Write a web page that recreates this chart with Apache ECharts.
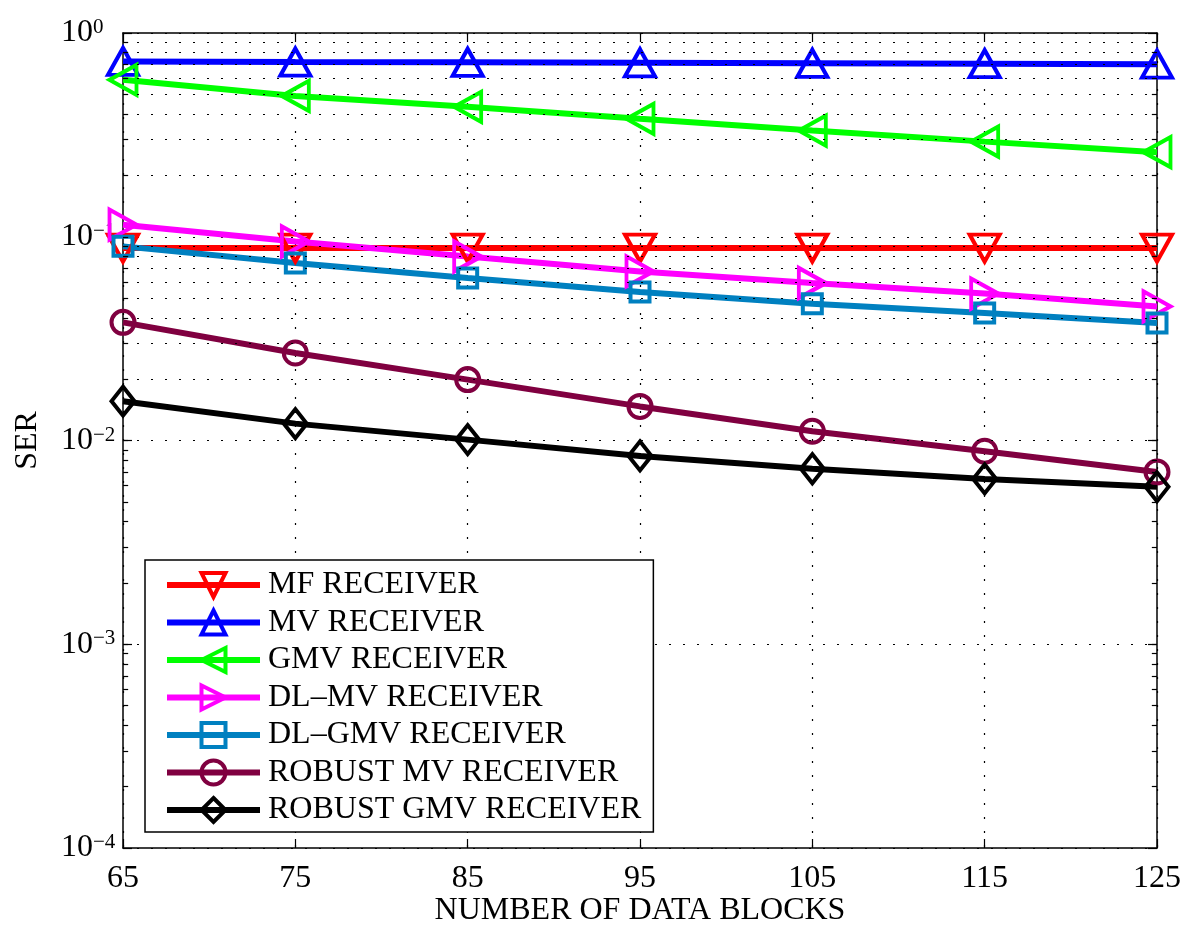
<!DOCTYPE html>
<html>
<head>
<meta charset="utf-8">
<script src="https://cdn.jsdelivr.net/npm/echarts@6/dist/echarts.min.js"></script>
<style>
html,body{margin:0;padding:0;background:#fff;}
#chart{width:1182px;height:927px;}
</style>
</head>
<body>
<div id="chart"></div>
<script>
// ---- data ----
const blocks = [65, 75, 85, 95, 105, 115, 125];
const mfReceiver = [0.088, 0.088, 0.088, 0.088, 0.088, 0.088, 0.088];
const mvReceiver = [0.725, 0.720, 0.718, 0.714, 0.710, 0.707, 0.703];
const gmvReceiver = [0.589, 0.491, 0.434, 0.379, 0.332, 0.293, 0.260];
const dlMvReceiver = [0.1146, 0.0948, 0.080, 0.0676, 0.0593, 0.0526, 0.0455];
const dlGmvReceiver = [0.0897, 0.0743, 0.0627, 0.0536, 0.0469, 0.0423, 0.0377];
const robustMvReceiver = [0.038, 0.0269, 0.0199, 0.0147, 0.0111, 0.00886, 0.0070];
const robustGmvReceiver = [0.0156, 0.0121, 0.0101, 0.0084, 0.00727, 0.00648, 0.00593];
const seriesNames = ['MF RECEIVER', 'MV RECEIVER', 'GMV RECEIVER', 'DL\u2013MV RECEIVER', 'DL\u2013GMV RECEIVER', 'ROBUST MV RECEIVER', 'ROBUST GMV RECEIVER'];
const yDecadeExponents = [0, -1, -2, -3, -4];
const xMin = 65, xMax = 125, xStep = 10;
const yMin = 1e-4, yMax = 1;

const FONT = '"Liberation Serif", "DejaVu Serif", serif';

// minor log grid values (2..9 x 10^k)
const minorVals = [];
for (let k = -4; k <= -1; k++) {
  for (let m = 2; m <= 9; m++) minorVals.push(m * Math.pow(10, k));
}
const decadeVals = [1e-3, 1e-2, 1e-1];

const dotted = [2, 12];
const gridMarks = minorVals.map(v => ({ yAxis: v }));
const tickLenX = 0.3;
const minorTickMarks = [];
minorVals.concat(decadeVals).forEach(v => {
  minorTickMarks.push([{ coord: [xMin, v] }, { coord: [xMin + tickLenX, v] }]);
  minorTickMarks.push([{ coord: [xMax - tickLenX, v] }, { coord: [xMax, v] }]);
});

function mkSeries(name, values, color, symbol, size, rotate) {
  return {
    name: name,
    type: 'line',
    data: blocks.map((b, i) => [b, values[i]]),
    symbol: symbol,
    symbolSize: size,
    symbolRotate: rotate || 0,
    showAllSymbol: true,
    lineStyle: { color: color, width: 6 },
    itemStyle: { color: 'rgba(255,255,255,0)', borderColor: color, borderWidth: 4 },
    emphasis: { disabled: true },
    animation: false,
    z: 3
  };
}

const chart = echarts.init(document.getElementById('chart'), null, { renderer: 'canvas' });

function expLabel(v) {
  const e = Math.round(Math.log10(v));
  const s = e < 0 ? '\u2212' + (-e) : String(e);
  return '{b|10}{s|' + s + '}';
}

const option = {
  backgroundColor: '#fff',
  animation: false,
  grid: { left: 123, right: 25, top: 33, bottom: 79, containLabel: false, outerBoundsMode: 'none' },
  legend: {
    data: seriesNames,
    orient: 'vertical',
    left: 145,
    top: 560,
    itemWidth: 93,
    itemHeight: 30,
    itemGap: 5.5,
    padding: [9, 12, 6, 19],
    borderColor: '#000',
    borderWidth: 1.5,
    backgroundColor: '#fff',
    selectedMode: false,
    lineStyle: { width: 6 },
    itemStyle: { borderWidth: 4 },
    textStyle: { fontFamily: FONT, fontSize: 32, color: '#000', padding: [0, 0, 0, 3] },
    z: 10
  },
  xAxis: [
    {
      type: 'value', min: xMin, max: xMax, interval: xStep,
      name: 'NUMBER OF DATA BLOCKS', nameLocation: 'middle', nameGap: 47, nameMoveOverlap: false,
      nameTextStyle: { fontFamily: FONT, fontSize: 32, color: '#000' },
      axisLine: { show: true, lineStyle: { color: '#000', width: 1.5 } },
      axisTick: { show: true, inside: true, length: 9, lineStyle: { color: '#000', width: 1.2 } },
      axisLabel: { fontFamily: FONT, fontSize: 32, color: '#000', margin: 15 },
      splitLine: { show: true, lineStyle: { color: '#000', width: 1.2, type: dotted } }
    },
    {
      type: 'value', min: xMin, max: xMax, interval: xStep, position: 'top',
      axisLine: { show: true, onZero: false, lineStyle: { color: '#000', width: 1.5 } },
      axisTick: { show: true, inside: true, length: 9, lineStyle: { color: '#000', width: 1.2 } },
      axisLabel: { show: false },
      splitLine: { show: false }
    }
  ],
  yAxis: [
    {
      type: 'log', logBase: 10, min: yMin, max: yMax,
      name: 'SER', nameLocation: 'middle', nameGap: 79, nameMoveOverlap: false,
      nameTextStyle: { fontFamily: FONT, fontSize: 32, color: '#000' },
      axisLine: { show: true, lineStyle: { color: '#000', width: 1.5 } },
      axisTick: { show: true, inside: true, length: 9, lineStyle: { color: '#000', width: 1.2 } },
      axisLabel: {
        align: 'left', margin: 62,
        formatter: expLabel,
        rich: {
          b: { fontFamily: FONT, fontSize: 32, lineHeight: 32, color: '#000', verticalAlign: 'bottom' },
          s: { fontFamily: FONT, fontSize: 21, lineHeight: 21, color: '#000', verticalAlign: 'top', padding: [0, 0, 16, 0] }
        }
      },
      splitLine: { show: true, lineStyle: { color: '#000', width: 1.2, type: dotted } }
    },
    {
      type: 'log', logBase: 10, min: yMin, max: yMax, position: 'right',
      axisLine: { show: true, onZero: false, lineStyle: { color: '#000', width: 1.5 } },
      axisTick: { show: true, inside: true, length: 9, lineStyle: { color: '#000', width: 1.2 } },
      axisLabel: { show: false },
      splitLine: { show: false }
    }
  ],
  series: [
    {
      name: 'grid-helper',
      type: 'line',
      data: [],
      silent: true,
      z: 1,
      markLine: {
        silent: true,
        symbol: ['none', 'none'],
        label: { show: false },
        animation: false,
        lineStyle: { color: '#000', width: 1.2, type: dotted },
        emphasis: { disabled: true },
        data: gridMarks
      }
    },
    {
      name: 'tick-helper',
      type: 'line',
      data: [],
      silent: true,
      z: 2,
      markLine: {
        silent: true,
        symbol: ['none', 'none'],
        label: { show: false },
        animation: false,
        lineStyle: { color: '#000', width: 1.2, type: 'solid' },
        emphasis: { disabled: true },
        data: minorTickMarks
      }
    },
    mkSeries(seriesNames[0], mfReceiver, '#ff0000', 'triangle', [30, 27], 180),
    mkSeries(seriesNames[1], mvReceiver, '#0000ff', 'triangle', [30, 27], 0),
    mkSeries(seriesNames[2], gmvReceiver, '#00ff00', 'triangle', [30, 27], 90),
    mkSeries(seriesNames[3], dlMvReceiver, '#ff00ff', 'triangle', [30, 27], -90),
    mkSeries(seriesNames[4], dlGmvReceiver, '#0080c0', 'rect', 19, 0),
    mkSeries(seriesNames[5], robustMvReceiver, '#800040', 'circle', 23, 0),
    mkSeries(seriesNames[6], robustGmvReceiver, '#000000', 'diamond', [23, 29], 0)
  ]
};
chart.setOption(option);
</script>
</body>
</html>
